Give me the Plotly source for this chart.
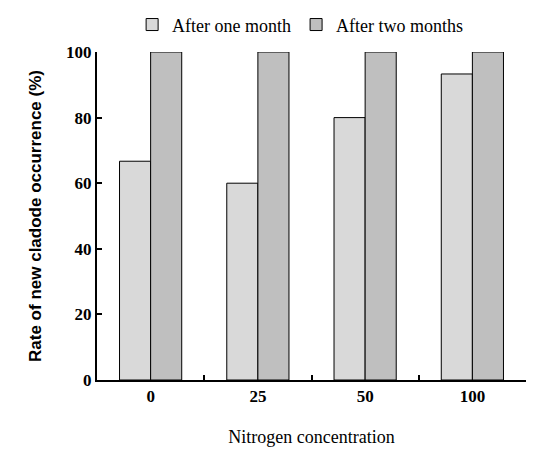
import plotly.graph_objects as go

categories = ["0", "25", "50", "100"]
one_month = [66.7, 60.0, 80.0, 93.3]
two_months = [100, 100, 100, 100]
y_ticks = [0, 20, 40, 60, 80, 100]

serif = "'Liberation Serif', 'Times New Roman', Times, serif"
sans = "'Liberation Sans', Arial, sans-serif"

fig = go.Figure()
fig.add_bar(x=categories, y=one_month, name="After one month",
            marker=dict(color="#d9d9d9", line=dict(color="black", width=1)))
fig.add_bar(x=categories, y=two_months, name="After two months",
            marker=dict(color="#bfbfbf", line=dict(color="black", width=1)))

fig.update_layout(
    width=536, height=455,
    margin=dict(l=89, r=18, t=44, b=83, autoexpand=False),
    paper_bgcolor="white", plot_bgcolor="white",
    barmode="group", bargap=0.42, bargroupgap=0,
    font=dict(family=serif, color="black", size=16),
    legend=dict(orientation="h", xref="container", yref="container",
                x=0.545, xanchor="center", y=0.963, yanchor="middle",
                font=dict(family=serif, size=18), itemwidth=30, tracegroupgap=0),
    xaxis=dict(type="category", showline=True, linecolor="black", linewidth=2,
               ticks="inside", tickson="boundaries", ticklen=5, tickwidth=2, tickcolor="black",
               tickfont=dict(size=17, family=serif, weight="bold"), showgrid=False, automargin=False,
               title=dict(text="Nitrogen concentration", font=dict(family=serif, size=18), standoff=25)),
    yaxis=dict(range=[0, 100], tickvals=y_ticks, showline=True, linecolor="black", linewidth=2,
               ticks="inside", ticklen=5, tickwidth=2, tickcolor="black",
               tickfont=dict(size=17, family=serif, weight="bold"), showgrid=False, zeroline=False,
               automargin=False,
               title=dict(text="Rate of new cladode occurrence (%)",
                          font=dict(family=sans, size=17, weight="bold"), standoff=20)),
)

fig.write_html("out.html")
